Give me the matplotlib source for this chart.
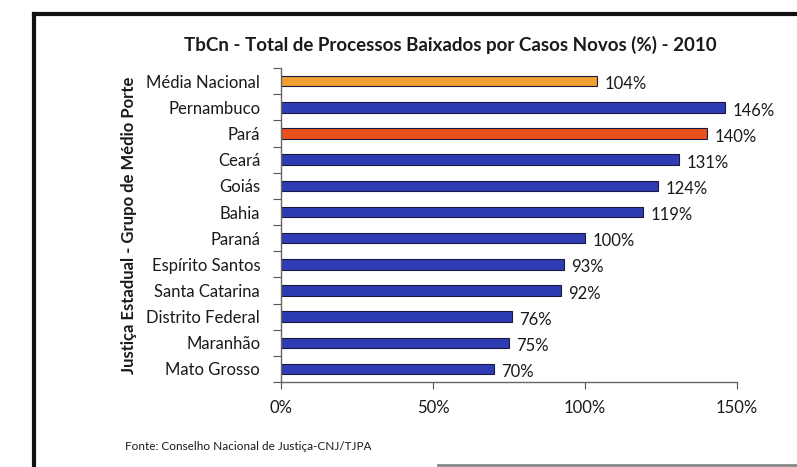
import matplotlib
matplotlib.use("Agg")
import matplotlib.pyplot as plt
from matplotlib.lines import Line2D

plt.rcParams['font.family'] = ['Lato', 'DejaVu Sans']

categories = ["Média Nacional", "Pernambuco", "Pará", "Ceará", "Goiás", "Bahia",
              "Paraná", "Espírito Santos", "Santa Catarina", "Distrito Federal",
              "Maranhão", "Mato Grosso"]
values = [104, 146, 140, 131, 124, 119, 100, 93, 92, 76, 75, 70]
bar_colors = ["#F0A030", "#2E3CB4", "#E8501E", "#2E3CB4", "#2E3CB4", "#2E3CB4",
              "#2E3CB4", "#2E3CB4", "#2E3CB4", "#2E3CB4", "#2E3CB4", "#2E3CB4"]
xticks = [0, 50, 100, 150]
xticklabels = ["0%", "50%", "100%", "150%"]

fig = plt.figure(figsize=(7.97, 4.67), dpi=100)
fig.patch.set_facecolor("white")

ax = fig.add_axes([0.3526, 0.182, 0.572, 0.672])
n = len(categories)
ypos = list(range(n))[::-1]
ax.barh(ypos, values, height=0.4, color=bar_colors, edgecolor="#1a1a40", linewidth=0.8)
for y, v in zip(ypos, values):
    ax.text(v + 2.5, y - 0.12, f"{v}%", va="center", ha="left", fontsize=12, color="#1a1a1a")

ax.set_xlim(0, 150)
ax.set_ylim(-0.5, n - 0.5)
ax.set_xticks(xticks)
ax.set_xticklabels(xticklabels, fontsize=12, color="#1a1a1a")
ax.set_yticks(ypos)
ax.set_yticklabels(categories, fontsize=12, color="#1a1a1a")
ax.set_yticks([i + 0.5 for i in range(-1, n)], minor=True)
ax.tick_params(axis="y", which="major", length=0, pad=15)
ax.tick_params(axis="y", which="minor", length=6, color="#555555", width=0.8, direction="out")
ax.tick_params(axis="x", length=5, color="#555555", width=0.8, direction="out", pad=8)
for s in ["top", "right"]:
    ax.spines[s].set_visible(False)
for s in ["left", "bottom"]:
    ax.spines[s].set_color("#666666")
    ax.spines[s].set_linewidth(1.0)

ax.set_ylabel("Justiça Estadual - Grupo de Médio Porte", fontsize=12, fontweight="bold",
              color="#1a1a1a")
ax.yaxis.set_label_coords(-0.315, 0.5)

fig.text(0.565, 0.903, "TbCn - Total de Processos Baixados por Casos Novos (%) - 2010",
         ha="center", va="center", fontsize=13.5, fontweight="bold", color="#1a1a1a")
fig.text(0.157, 0.043, "Fonte: Conselho Nacional de Justiça-CNJ/TJPA",
         ha="left", va="center", fontsize=8.5, color="#1a1a1a")

# outer frame
fig.add_artist(Line2D([34/797, 34/797], [1 - 14/467, 0], transform=fig.transFigure,
                      color="#111111", linewidth=3))
fig.add_artist(Line2D([34/797, 1], [1 - 14/467, 1 - 14/467], transform=fig.transFigure,
                      color="#111111", linewidth=3))
fig.add_artist(Line2D([0.55, 1], [1 - 465/467, 1 - 465/467], transform=fig.transFigure,
                      color="#888888", linewidth=2))

fig.savefig("out.png", dpi=100, facecolor="white")
